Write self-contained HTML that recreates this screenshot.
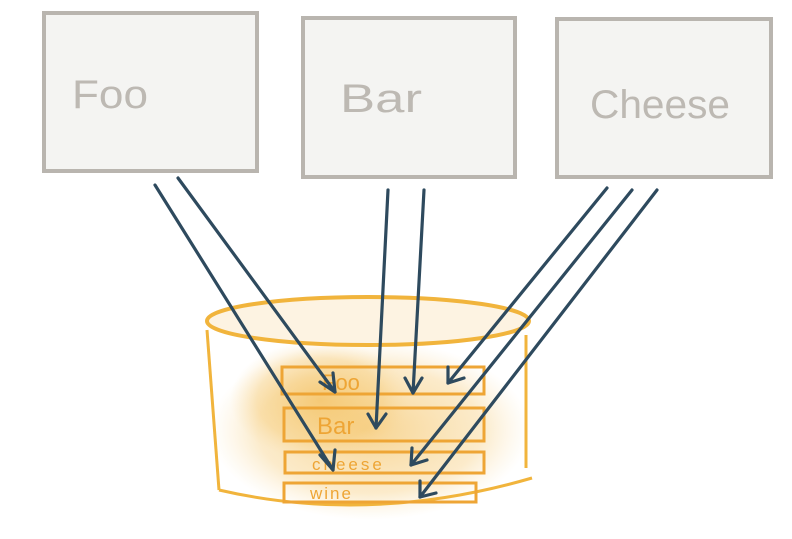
<!DOCTYPE html>
<html><head><meta charset="utf-8"><style>
html,body{margin:0;padding:0;background:#fff;}
svg{display:block}
</style></head><body>
<svg width="792" height="539" viewBox="0 0 792 539" xmlns="http://www.w3.org/2000/svg">
<defs>
<radialGradient id="wash" cx="50%" cy="50%" r="50%">
<stop offset="0" stop-color="#f2b84a" stop-opacity="0.6"/>
<stop offset="0.7" stop-color="#f5c66a" stop-opacity="0.35"/>
<stop offset="1" stop-color="#f8d89a" stop-opacity="0"/>
</radialGradient>
</defs>
<g fill="#f4f4f2" stroke="#b9b5af" stroke-width="4">
<rect x="44" y="13" width="213" height="158"/>
<rect x="303" y="18" width="212" height="159"/>
<rect x="557" y="19" width="214" height="158"/>
</g>
<g font-family="Liberation Sans, sans-serif" fill="#bdb9b3" font-size="40">
<text x="72" y="108" textLength="76" lengthAdjust="spacingAndGlyphs">Foo</text>
<text x="340" y="112" textLength="82" lengthAdjust="spacingAndGlyphs">Bar</text>
<text x="590" y="118" textLength="140" lengthAdjust="spacingAndGlyphs">Cheese</text>
</g>
<!-- cylinder -->
<ellipse cx="370" cy="430" rx="160" ry="90" fill="url(#wash)"/>
<ellipse cx="320" cy="400" rx="90" ry="60" fill="url(#wash)"/>
<ellipse cx="368" cy="321" rx="161" ry="24" fill="#fdf3e2" stroke="#f1b43c" stroke-width="4"/>
<g fill="none" stroke="#f1b43c" stroke-width="3">
<path d="M207 330 L219 490"/>
<path d="M526 335 L526 468"/>
<path d="M219 490 Q370 525 532 478"/>
</g>
<g fill="none" stroke="#eea535" stroke-width="3">
<rect x="282" y="367" width="202" height="27"/>
<rect x="284" y="408" width="200" height="33"/>
<rect x="285" y="452" width="199" height="21"/>
<rect x="284" y="483" width="192" height="19"/>
</g>
<g font-family="Liberation Sans, sans-serif" fill="#eea535">
<text x="322" y="390" font-size="22">Foo</text>
<text x="317" y="434" font-size="24">Bar</text>
<text x="312" y="470" font-size="17" letter-spacing="3">cheese</text>
<text x="310" y="499" font-size="17" letter-spacing="2">wine</text>
</g>
<!-- arrows -->
<g fill="none" stroke="#2e4a5e" stroke-width="3.2" stroke-linecap="round" stroke-linejoin="round">
<path d="M155 185 L333 470"/><path d="M320 455 L333 470 L335 450"/>
<path d="M178 178 L335 392"/><path d="M320 382 L335 392 L333 373"/>
<path d="M388 190 L376 428"/><path d="M368 414 L376 428 L386 414"/>
<path d="M424 190 L413 393"/><path d="M405 378 L413 393 L422 378"/>
<path d="M607 188 L448 383"/><path d="M448 367 L448 383 L464 378"/>
<path d="M632 190 L411 465"/><path d="M412 448 L411 465 L427 460"/>
<path d="M657 190 L420 497"/><path d="M420 481 L420 497 L436 493"/>
</g>
</svg>
</body></html>
